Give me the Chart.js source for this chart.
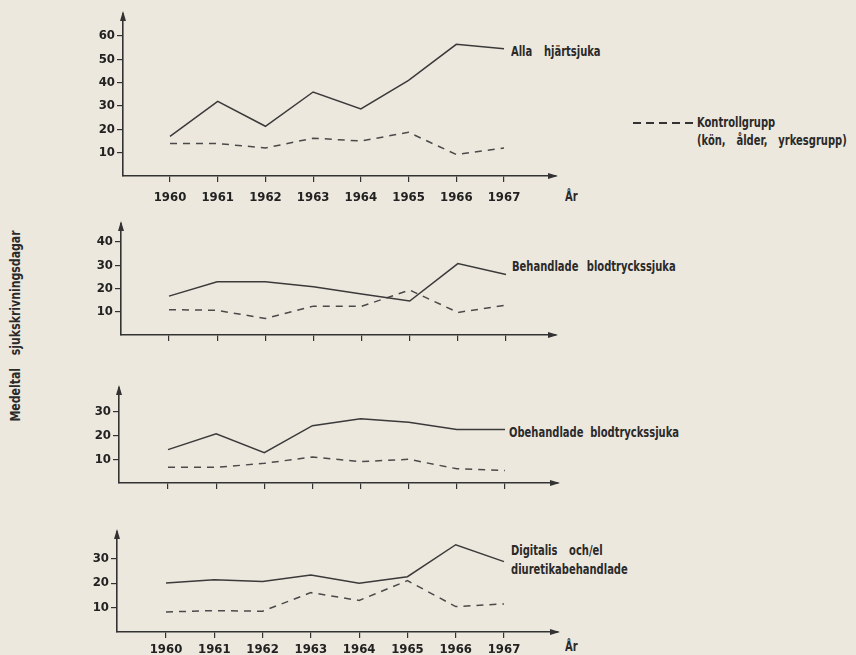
<!DOCTYPE html>
<html><head><meta charset="utf-8">
<script src="https://cdn.jsdelivr.net/npm/chart.js@4.4.1/dist/chart.umd.min.js"></script>
<style>
html,body{margin:0;padding:0;}
body{width:856px;height:655px;background:#ede8de;position:relative;overflow:hidden;
 font-family:'Liberation Sans Narrow','DejaVu Sans Condensed','Roboto Condensed',sans-serif;font-weight:bold;color:#2a2a2a;}
canvas{position:absolute;}
.lbl{position:absolute;font-size:13.5px;line-height:19px;white-space:nowrap;word-spacing:5px;transform:scaleX(0.82);transform-origin:0 0;}
#ytitle{position:absolute;left:15px;top:326px;transform:translate(-50%,-50%) rotate(-90deg) scaleX(0.9);font-size:13.5px;white-space:nowrap;word-spacing:10px;}
#dash{position:absolute;left:633px;top:122px;width:62px;height:1.6px;background:repeating-linear-gradient(90deg,#333 0 8px,transparent 8px 13px);}
</style></head><body>
<div id="ytitle">Medeltal sjukskrivningsdagar</div>
<div class="lbl" style="left:511px;top:42px;word-spacing:10px;">Alla hjärtsjuka</div>
<div class="lbl" style="left:512px;top:257px;word-spacing:6px;">Behandlade blodtryckssjuka</div>
<div class="lbl" style="left:509px;top:423px;word-spacing:4px;">Obehandlade blodtryckssjuka</div>
<div class="lbl" style="left:511px;top:541px;word-spacing:10px;">Digitalis och/el<br>diuretikabehandlade</div>
<div class="lbl" style="left:565px;top:187px;">År</div>
<div class="lbl" style="left:565px;top:637px;">År</div>
<div id="dash"></div>
<div class="lbl" style="left:697px;top:113px;word-spacing:0;">Kontrollgrupp</div>
<div class="lbl" style="left:697px;top:131px;word-spacing:9px;">(kön, ålder, yrkesgrupp)</div>
<script>
const years = [1960,1961,1962,1963,1964,1965,1966,1967];
const allaHjartsjuka = [17,32,21.3,36,28.7,41,56.4,54.5];
const allaKontroll   = [13.9,13.9,12,16.2,15,18.7,9.2,12];
const behandladeBlod = [16.7,22.9,22.9,20.7,17.6,14.6,30.7,26];
const behandladeKontroll = [10.9,10.6,7.1,12.4,12.3,19.3,9.7,12.8];
const obehandladeBlod = [14.1,20.8,12.8,24.2,27.1,25.6,22.6,22.6];
const obehandladeKontroll = [6.6,6.6,8.3,11,9,10,6,5.3];
const digitalis = [20,21.4,20.7,23.3,19.9,22.6,35.7,28.8];
const digitalisKontroll = [8.2,8.75,8.5,16.1,12.9,21,10.4,11.5];
const yTicks1 = [10,20,30,40,50,60];
const yTicks2 = [10,20,30,40];
const yTicks3 = [10,20,30];
const yTicks4 = [10,20,30];

const INK='#333';
const FONT="'Liberation Sans Narrow','DejaVu Sans Condensed','Roboto Condensed',sans-serif";

// layout (page pixels)
const panels = [
 {solid:allaHjartsjuka, dash:allaKontroll, ticks:yTicks1, left:123,right:556,top:14,bottom:176,x0:170,x7:504,ymax:69.4,showX:true,labPad:8},
 {solid:behandladeBlod, dash:behandladeKontroll, ticks:yTicks2, left:121,right:556,top:224,bottom:335,x0:169,x7:506,ymax:47.7,showX:false,labPad:8},
 {solid:obehandladeBlod, dash:obehandladeKontroll, ticks:yTicks3, left:119,right:558,top:388,bottom:483,x0:168,x7:505,ymax:40.1,showX:false,labPad:8},
 {solid:digitalis, dash:digitalisKontroll, ticks:yTicks4, left:117,right:558,top:532,bottom:632,x0:166,x7:504,ymax:40.9,showX:true,labPad:4}
];

const arrows = {
 id:'arrows',
 afterDraw(chart){
  const c=chart.ctx, a=chart.chartArea;
  c.save(); c.fillStyle=INK;
  c.beginPath(); c.moveTo(a.left,a.top-3); c.lineTo(a.left-3,a.top+7); c.lineTo(a.left+3,a.top+7); c.closePath(); c.fill();
  c.beginPath(); c.moveTo(a.right+2,a.bottom); c.lineTo(a.right-8,a.bottom-3); c.lineTo(a.right-8,a.bottom+3); c.closePath(); c.fill();
  c.restore();
 }
};

const CANVAS_LEFT=50, CANVAS_W=560, PADTOP=12, XH=32;
panels.forEach((p,i)=>{
 const cv=document.createElement('canvas');
 const h = p.bottom - p.top + PADTOP + XH;
 cv.width=CANVAS_W; cv.height=h;
 cv.style.left=CANVAS_LEFT+'px'; cv.style.top=(p.top-PADTOP)+'px';
 cv.style.width=CANVAS_W+'px'; cv.style.height=h+'px';
 document.body.appendChild(cv);
 const ppy=(p.x7-p.x0)/7;
 const xmin=1960-(p.x0-p.left)/ppy;
 const xmax=xmin+(p.right-p.left)/ppy;
 new Chart(cv,{
  type:'line',
  data:{datasets:[
   {data:years.map((y,k)=>({x:y,y:p.solid[k]})),borderColor:'#3a3a3a',borderWidth:1.5,pointRadius:0,tension:0,fill:false},
   {data:years.map((y,k)=>({x:y,y:p.dash[k]})),borderColor:'#4a4a4a',borderWidth:1.5,borderDash:[7,6],pointRadius:0,tension:0,fill:false}
  ]},
  options:{
   responsive:false,animation:false,devicePixelRatio:1,
   layout:{padding:{left:0,top:PADTOP,right:CANVAS_LEFT+CANVAS_W-p.right,bottom:0}},
   plugins:{legend:{display:false},tooltip:{enabled:false}},
   scales:{
    x:{type:'linear',min:xmin,max:xmax,
     afterBuildTicks(s){s.ticks=years.map(v=>({value:v}));},
     afterFit(s){s.height=XH;},
     grid:{drawOnChartArea:false,drawTicks:true,tickLength:6,color:INK,lineWidth:1.2},
     border:{display:true,color:INK,width:1.6},
     ticks:{display:p.showX,padding:p.labPad,color:'#222',font:{family:FONT,weight:'bold',size:13},maxRotation:0,autoSkip:false,callback:v=>String(v)}
    },
    y:{type:'linear',min:0,max:p.ymax,
     afterBuildTicks(s){s.ticks=p.ticks.map(v=>({value:v}));},
     afterFit(s){s.width=p.left-CANVAS_LEFT;},
     grid:{drawOnChartArea:false,drawTicks:true,tickLength:6,color:INK,lineWidth:1.2},
     border:{display:true,color:INK,width:1.6},
     ticks:{padding:2,color:'#222',font:{family:FONT,weight:'bold',size:13},callback:v=>String(v)}
    }
   }
  },
  plugins:[arrows]
 });
});
</script>
</body></html>
